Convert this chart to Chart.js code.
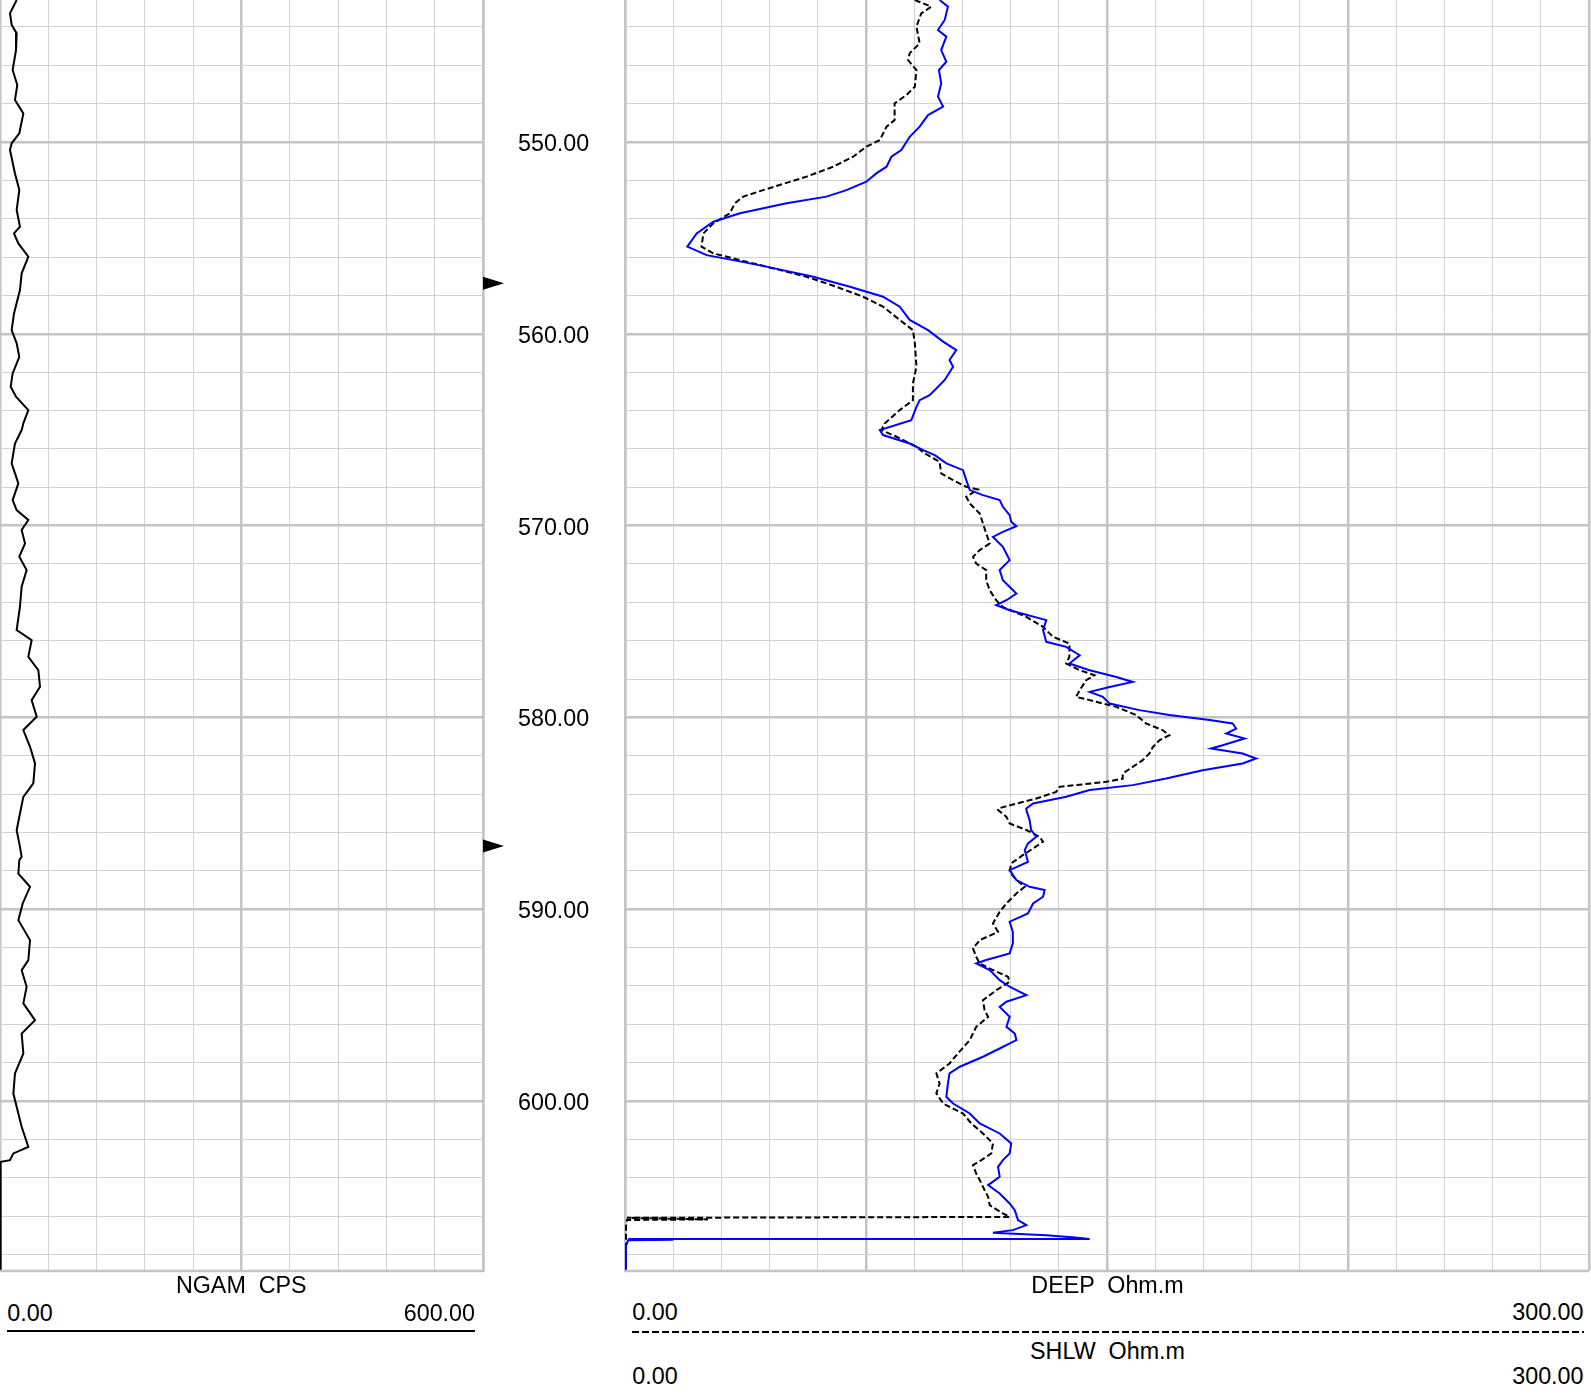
<!DOCTYPE html>
<html>
<head>
<meta charset="utf-8">
<script src="https://cdn.jsdelivr.net/npm/chart.js@4.4.0/dist/chart.umd.min.js"></script>
<style>
  body { margin: 0; background: #fff; width: 1591px; height: 1394px; position: relative; overflow: hidden; font-family: "Liberation Sans", Arial, sans-serif; }
  canvas { position: absolute; top: 0; }
  .lbl { position: absolute; font-size: 23.3px; line-height: 23.3px; white-space: pre; color: #000; }
</style>
</head>
<body>
<canvas id="ngam-track" width="625" height="1273" style="left:0px"></canvas>
<canvas id="res-track" width="968" height="1273" style="left:623px"></canvas>
<div id="header"></div>
<script>
// depth window (m)
const depthTop = 542.6;
const depthBottom = 608.86;
const depthGrid = [544, 546, 548, 550, 552, 554, 556, 558, 560, 562, 564, 566, 568, 570, 572, 574, 576, 578,
  580, 582, 584, 586, 588, 590, 592, 594, 596, 598, 600, 602, 604, 606, 608];
const depthLabels = [550, 560, 570, 580, 590, 600];
const markerDepths = [557.36, 586.71];

// NGAM (CPS)
const ngamDepth = [542.60, 543.30, 543.90, 544.34, 545.21, 546.25, 547.03, 547.81, 548.51, 549.55,
  550.07, 550.42, 551.64, 552.51, 553.55, 554.42, 554.77, 555.29, 555.98, 556.85,
  557.72, 558.94, 559.81, 560.50, 561.20, 562.07, 562.76, 563.28, 563.98, 564.67,
  565.02, 565.72, 566.76, 567.80, 568.67, 569.19, 569.71, 570.23, 570.93, 571.62,
  572.32, 573.19, 574.23, 575.45, 575.97, 576.84, 577.53, 578.40, 579.10, 579.97,
  580.66, 581.53, 582.40, 583.44, 584.14, 585.01, 585.88, 586.75, 587.27,
  587.44, 588.14, 588.83, 589.70, 590.57, 591.61, 592.65, 593.18, 594.04, 594.91,
  595.78, 596.48, 597.52, 598.56, 599.61, 600.30, 601.34, 602.39, 602.73, 603.08,
  603.17, 608.86];
const ngamValue = [20.7, 12.4, 14.5, 20.7, 19.9, 15.7, 21.5, 18.6, 29.0, 24.0,
  14.5, 12.4, 18.6, 24.0, 20.7, 24.8, 17.4, 22.8, 35.2, 26.9,
  24.8, 17.4, 14.5, 20.7, 24.0, 15.7, 13.3, 19.9, 35.2, 29.0,
  26.9, 18.6, 14.5, 22.8, 15.7, 20.7, 35.2, 26.9, 31.1, 24.0,
  33.1, 26.9, 24.8, 20.7, 39.3, 35.2, 47.6, 49.7, 39.3, 45.6,
  29.0, 37.3, 43.5, 41.4, 29.0, 24.8, 20.7, 24.8, 26.9,
  24.0, 22.8, 37.3, 28.2, 22.8, 37.3, 35.2, 26.9, 33.1, 29.0,
  43.5, 26.9, 29.0, 18.6, 16.6, 20.7, 26.9, 35.2, 16.6, 12.4,
  0.8, 0.8];

// DEEP (Ohm.m)
const deepDepth = [542.60, 542.95, 543.30, 543.99, 544.86, 545.38, 545.73, 546.25, 547.12, 547.55,
  547.99, 548.86, 549.20, 549.90, 550.25, 550.77, 551.29, 551.81, 552.51, 552.85,
  553.20, 553.72, 554.24, 554.77, 555.46, 555.81, 556.16, 556.50, 557.03, 557.55,
  558.07, 558.59, 559.28, 559.81, 560.50, 561.72, 562.59,
  563.46, 563.98, 564.68, 565.02, 565.37, 565.89, 566.24, 566.68, 567.28, 567.63,
  567.98, 568.12, 568.50, 568.85, 569.37, 569.89, 570.41, 570.93, 571.28, 571.63,
  571.98, 572.32, 572.85, 573.37, 573.89, 574.24, 574.76, 575.28, 575.80, 576.15,
  576.84, 577.19, 577.54, 577.80, 578.06, 578.58, 578.93, 579.10, 579.45, 579.88,
  580.32, 580.67, 580.93, 581.19, 581.54, 581.88, 582.23, 582.58, 582.93, 583.19,
  583.36, 583.62, 583.88, 584.23, 584.49, 584.75,
  584.83, 585.18, 585.53, 585.87, 586.22, 586.48, 586.83, 587.18, 587.61, 588.05,
  588.48, 588.83, 589.18, 589.70, 590.13, 590.74, 591.18, 591.61, 592.04, 592.48,
  592.83, 593.17, 593.52, 593.78, 594.22, 594.74, 595.26, 595.61, 596.13, 596.82,
  597.52, 598.04, 598.56, 599.08, 599.60, 600.13, 600.65, 601.17, 601.69, 602.21,
  602.73, 603.08, 603.34, 603.78, 604.12, 604.64, 604.99, 605.43, 605.86, 606.04,
  606.09, 606.17, 606.20, 606.57, 608.86];
const deepValue = [90.2, 95.3, 92.2, 90.7, 91.7, 88.6, 88.1, 90.7, 90.2, 87.6,
  83.9, 83.9, 81.4, 79.3, 75.1, 71.0, 64.8, 56.5, 43.0, 36.8,
  34.2, 32.6, 27.5, 24.4, 23.8, 27.5, 35.8, 44.0, 56.5, 65.8,
  74.1, 80.3, 85.5, 89.6, 90.2, 90.7, 89.6,
  89.6, 85.5, 80.8, 79.8, 84.5, 90.7, 93.3, 97.9, 98.4, 102.1,
  106.2, 109.8, 106.2, 107.3, 110.4, 111.4, 112.4, 113.5, 110.4, 108.3,
  109.3, 112.4, 112.4, 113.5, 115.5, 117.6, 124.9, 130.1, 133.2, 138.3,
  138.3, 137.3, 141.5, 146.1, 143.5, 141.5, 140.4, 144.6, 152.9, 159.1,
  162.2, 167.4, 169.4, 166.3, 164.3, 163.2, 161.1, 158.0, 154.9, 154.9,
  149.7, 135.2, 134.2, 128.0, 121.8, 116.1,
  116.1, 118.7, 119.7, 124.9, 129.0, 130.1, 127.0, 123.8, 120.2, 119.7,
  121.8, 124.4, 121.8, 118.7, 116.6, 114.5, 116.1, 110.4, 108.3, 109.3,
  110.4, 114.5, 119.2, 119.7, 115.6, 111.4, 111.9, 113.0, 109.3, 107.3,
  103.6, 101.0, 96.9, 97.9, 96.9, 99.0, 105.2, 107.8, 111.4, 114.5,
  114.0, 110.9, 108.3, 109.3, 110.4, 111.9, 113.0, 113.5, 117.6, 119.7,
  0.6, 25.8, 0.6, 0.3, 0.3];

// SHLW (Ohm.m)
const shlwDepth = [542.60, 542.95, 543.64, 544.16, 544.51, 545.21, 545.82, 546.25, 546.95, 547.64,
  548.16, 548.60, 549.20, 549.73, 550.42, 550.77, 551.29, 551.64, 552.07, 552.51,
  552.85, 553.20, 553.72, 554.16, 554.77, 555.46, 555.90, 556.16, 556.50, 557.03,
  557.55, 558.07, 558.59, 559.28, 559.81, 560.41, 560.85, 561.37, 561.72, 562.41,
  562.85, 563.20,
  563.46, 563.81, 564.50, 565.02, 565.28, 565.72, 566.07, 566.33, 566.76, 567.11,
  567.63, 568.15, 568.41, 568.67, 569.02, 569.46, 569.80, 570.03, 570.33, 570.59,
  571.11, 571.80, 572.32, 572.85, 573.54, 573.89, 574.15, 574.41, 574.93, 575.45,
  576.06, 576.32, 576.76, 577.19, 577.54, 577.89, 578.15, 578.41, 578.67, 578.93,
  579.28, 579.62, 579.88, 580.14, 580.32, 580.58, 580.84, 581.10, 581.45, 581.62,
  581.88, 582.14, 582.40, 582.75, 583.19, 583.53, 583.79, 584.14, 584.49, 584.75,
  584.83, 585.35, 585.87, 586.22, 586.57, 586.92, 587.53, 587.96, 588.48, 588.83,
  589.00, 589.35, 589.70, 590.22, 590.65, 591.18, 591.78, 592.30, 592.65, 592.83,
  593.17, 593.70, 594.04, 594.22, 594.48, 594.82, 595.09, 595.61, 596.13, 596.48,
  596.82, 597.26, 597.69, 598.21, 598.56, 599.08, 599.78, 600.13, 600.65, 601.17,
  601.69, 602.21, 602.73, 603.08, 603.43, 603.95, 604.38, 604.82, 605.34, 605.69,
  606.21, 606.47, 606.73, 606.87, 606.99, 607.11, 607.19, 607.19, 607.23, 607.26,
  607.55, 608.86];
const shlwValue = [97.9, 100.5, 99.5, 97.4, 100.0, 98.4, 100.0, 97.7, 98.4, 97.4,
  99.0, 94.3, 91.7, 88.6, 86.0, 82.9, 81.4, 78.2, 75.1, 68.9,
  62.7, 50.3, 35.8, 27.5, 22.3, 19.4, 25.4, 33.7, 44.0, 58.6,
  70.0, 80.3, 85.5, 88.6, 94.3, 99.0, 103.1, 101.0, 102.1, 99.5,
  96.9, 94.8,
  91.7, 90.7, 89.1, 79.3, 80.3, 88.6, 92.8, 96.4, 100.0, 105.2,
  106.2, 107.3, 111.4, 116.6, 117.6, 119.7, 120.2, 121.8, 117.6, 114.5,
  117.6, 119.7, 116.6, 117.6, 121.8, 118.7, 115.5, 119.7, 131.1, 130.1,
  131.1, 137.3, 141.5, 138.3, 144.6, 152.9, 158.0, 150.8, 144.6, 148.7,
  150.8, 160.1, 169.4, 181.9, 189.1, 190.2, 187.1, 192.8, 186.0, 182.4,
  192.2, 196.4, 192.2, 179.8, 168.4, 158.0, 144.6, 137.3, 127.0, 124.9,
  124.9, 125.9, 126.4, 128.0, 125.4, 124.4, 125.4, 119.7, 121.8, 125.9,
  130.6, 130.1, 127.0, 125.4, 119.7, 120.7, 120.7, 119.7, 112.4, 109.3,
  113.5, 116.6, 119.7, 121.8, 124.9, 118.7, 116.6, 119.7, 118.7, 121.3,
  121.8, 116.6, 111.4, 104.2, 101.0, 100.5, 100.0, 102.1, 107.3, 110.4,
  116.6, 120.2, 119.7, 117.6, 116.1, 116.6, 113.0, 116.6, 119.7, 121.3,
  122.3, 124.9, 120.7, 114.5, 131.1, 140.0, 144.6, 1.0, 15.0, 1.0,
  0.3, 0.3];

const gridMinor = '#d2d2d2';
const gridMajor = '#c4c4c4';
const labelFont = { family: 'Liberation Sans', size: 23.3 };

function toPoints(depths, values) {
  return depths.map((d, i) => ({ x: values[i], y: d }));
}

function depthAxis(showLabels) {
  return {
    type: 'linear',
    position: showLabels ? 'right' : 'left',
    reverse: true,
    min: depthTop,
    max: depthBottom,
    afterBuildTicks: s => { s.ticks = depthGrid.map(v => ({ value: v })); },
    afterFit: s => {
      s.width = showLabels ? 142 : 0;
      s.paddingTop = 0;
      s.paddingBottom = 0;
    },
    ticks: {
      display: showLabels,
      autoSkip: false,
      padding: 35,
      labelOffset: 2.5,
      color: '#000',
      font: labelFont,
      callback: v => depthLabels.includes(v) ? v.toFixed(2) : ''
    },
    grid: {
      drawTicks: false,
      color: c => depthLabels.includes(c.tick.value) ? gridMajor : gridMinor,
      lineWidth: c => depthLabels.includes(c.tick.value) ? 2.5 : 1
    },
    border: { display: true, color: gridMajor, width: 2.5 }
  };
}

function valueAxis(max, step, majorStep) {
  return {
    type: 'linear',
    min: 0,
    max: max,
    ticks: { display: false, stepSize: step },
    grid: {
      drawTicks: false,
      color: c => c.tick.value % majorStep === 0 ? gridMajor : gridMinor,
      lineWidth: c => c.tick.value % majorStep === 0 ? 2.5 : 1
    },
    border: { display: false }
  };
}

// bottom edge of a track
const frame = {
  id: 'frame',
  afterDraw(chart) {
    const { ctx, chartArea } = chart;
    ctx.save();
    ctx.strokeStyle = gridMajor;
    ctx.lineWidth = 2.5;
    ctx.beginPath();
    ctx.moveTo(chartArea.left, chartArea.bottom);
    ctx.lineTo(chartArea.right, chartArea.bottom);
    ctx.stroke();
    ctx.restore();
  }
};

// little black flags next to the depth column
const markers = {
  id: 'markers',
  afterDraw(chart) {
    const { ctx, chartArea, scales } = chart;
    ctx.save();
    ctx.fillStyle = '#000';
    markerDepths.forEach(d => {
      const y = scales.y.getPixelForValue(d);
      ctx.beginPath();
      ctx.moveTo(chartArea.right, y - 6.5);
      ctx.lineTo(chartArea.right + 21, y);
      ctx.lineTo(chartArea.right, y + 6.5);
      ctx.closePath();
      ctx.fill();
    });
    ctx.restore();
  }
};

new Chart(document.getElementById('ngam-track'), {
  type: 'scatter',
  data: {
    datasets: [{
      label: 'NGAM',
      data: toPoints(ngamDepth, ngamValue),
      showLine: true,
      borderColor: '#000',
      borderWidth: 2,
      pointRadius: 0,
      fill: false
    }]
  },
  options: {
    responsive: false,
    animation: false,
    layout: { padding: { left: 0, right: 0, top: 0, bottom: 2 } },
    plugins: { legend: { display: false }, tooltip: { enabled: false } },
    scales: {
      x: valueAxis(600, 60, 300),
      y: depthAxis(true)
    }
  },
  plugins: [frame, markers]
});

new Chart(document.getElementById('res-track'), {
  type: 'scatter',
  data: {
    datasets: [
      {
        label: 'SHLW',
        data: toPoints(shlwDepth, shlwValue),
        showLine: true,
        borderColor: '#0000ff',
        borderWidth: 2,
        pointRadius: 0,
        fill: false
      },
      {
        label: 'DEEP',
        data: toPoints(deepDepth, deepValue),
        showLine: true,
        borderColor: '#000',
        borderWidth: 2,
        borderDash: [6, 3],
        pointRadius: 0,
        fill: false
      }
    ]
  },
  options: {
    responsive: false,
    animation: false,
    layout: { padding: { left: 2, right: 2, top: 0, bottom: 2 } },
    plugins: { legend: { display: false }, tooltip: { enabled: false } },
    scales: {
      x: valueAxis(300, 15, 75),
      y: depthAxis(false)
    }
  },
  plugins: [frame]
});

// curve headers under the tracks
const header = document.getElementById('header');
function placeLabel(text, x, baseline, align) {
  const el = document.createElement('div');
  el.className = 'lbl';
  el.textContent = text;
  el.style.top = (baseline - 19.7) + 'px';
  if (align === 'center') {
    el.style.left = (x - 200) + 'px';
    el.style.width = '400px';
    el.style.textAlign = 'center';
  } else if (align === 'right') {
    el.style.left = (x - 300) + 'px';
    el.style.width = '300px';
    el.style.textAlign = 'right';
  } else {
    el.style.left = x + 'px';
  }
  header.appendChild(el);
}
function placeRule(x1, x2, y, dashed) {
  const el = document.createElement('div');
  el.style.position = 'absolute';
  el.style.left = x1 + 'px';
  el.style.top = y + 'px';
  el.style.width = (x2 - x1) + 'px';
  el.style.height = '2px';
  el.style.background = dashed ? 'repeating-linear-gradient(to right, #000 0 7px, transparent 7px 10px)' : '#000';
  header.appendChild(el);
}

placeLabel('NGAM  CPS', 241.3, 1293.3, 'center');
placeLabel('0.00', 7.3, 1321.5, 'left');
placeLabel('600.00', 475, 1321.5, 'right');
placeRule(7.3, 475, 1330, false);

placeLabel('DEEP  Ohm.m', 1107.5, 1293.3, 'center');
placeLabel('0.00', 632.3, 1321, 'left');
placeLabel('300.00', 1583.5, 1321, 'right');
placeRule(632, 1584, 1331, true);

placeLabel('SHLW  Ohm.m', 1107.5, 1359.5, 'center');
placeLabel('0.00', 632.3, 1385, 'left');
placeLabel('300.00', 1583.5, 1385, 'right');
</script>
</body>
</html>
